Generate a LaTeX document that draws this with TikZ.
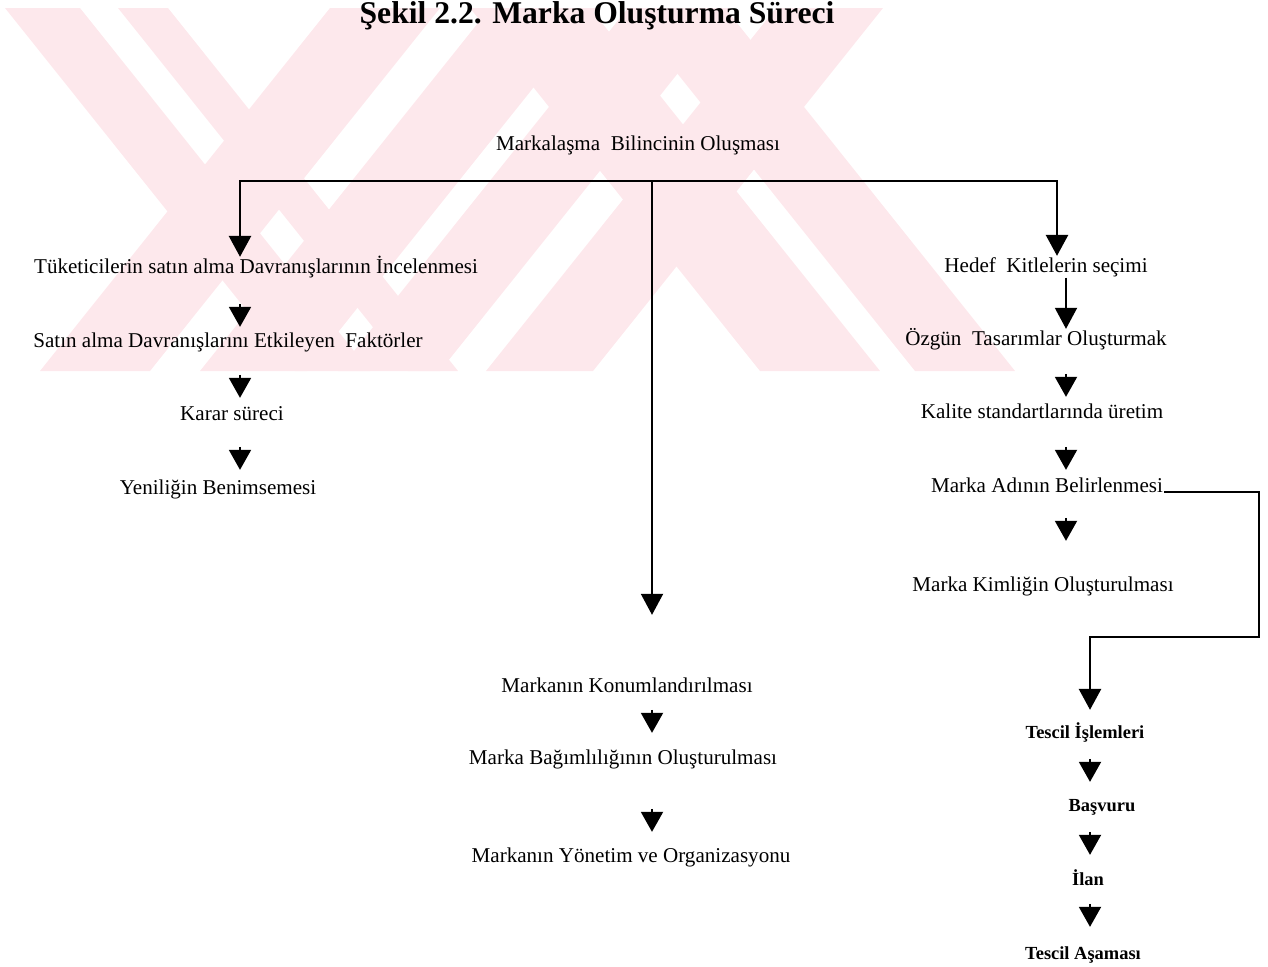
\documentclass[tikz,border=0pt]{standalone}
\usepackage{fontspec}
\setmainfont{Liberation Serif}
\usepackage{tikz}
\usetikzlibrary{arrows.meta, calc}
\definecolor{wmpink}{RGB}{253,232,236}
\tikzstyle{stage} = [anchor=base, inner sep=0.5pt, text height=8.5pt, text depth=2.5pt]
\tikzstyle{regstage} = [stage, font=\fontsize{10.5}{12}\selectfont\bfseries]
\tikzstyle{arrow} = [line width=1.6pt, -{Triangle[width=0.44cm,length=0.42cm]}]
\tikzstyle{thinarrow} = [line width=1.1pt, -{Triangle[width=0.44cm,length=0.42cm]}]
\tikzstyle{stub} = [line width=1.1pt, -{Triangle[width=0.44cm,length=0.4cm]}]

\begin{document}
\begin{tikzpicture}[x=0.02cm, y=-0.02cm, font=\fontsize{12}{14}\selectfont]
    \useasboundingbox (0,0) rectangle (1268,967);
    % watermark stripes
    \begin{scope}
        \clip (5,8) rectangle (1265,371);
        \fill[wmpink] (40,371) -- (150,371) -- (440,8) -- (330,8) -- cycle;
        \fill[wmpink] (200,371) -- (307,371) -- (597,8) -- (490,8) -- cycle;
        \fill[wmpink] (338,371) -- (440,371) -- (730,8) -- (628,8) -- cycle;
        \fill[wmpink] (486,371) -- (593,371) -- (883,8) -- (776,8) -- cycle;
        \fill[wmpink] (5,8) -- (80,8) -- (370,371) -- (295,371) -- cycle;
        \fill[wmpink] (118,8) -- (168,8) -- (458,371) -- (408,371) -- cycle;
        \fill[wmpink] (470,8) -- (590,8) -- (880,371) -- (760,371) -- cycle;
        \fill[wmpink] (625,8) -- (725,8) -- (1015,371) -- (915,371) -- cycle;
    \end{scope}
    \node (title) [anchor=base, font=\fontsize{18}{20}\selectfont\bfseries] at (597,23) {Şekil 2.2. Marka Oluşturma Süreci};

    \node (mb) [stage] at (638,150) {Markalaşma~ Bilincinin Oluşması};
    \coordinate (hub) at (652,181);
    \coordinate (colL) at (240,181);
    \coordinate (topR) at (1057,181);
    \coordinate (colR) at (1066,0);
    \coordinate (colT) at (1090,0);
    \coordinate (bendR) at (1259,637);

    % left column
    \node (tk) [stage] at (256,273) {Tüketicilerin satın alma Davranışlarının İncelenmesi};
    \node (sa) [stage] at (228,347) {Satın alma Davranışlarını Etkileyen~ Faktörler};
    \node (ks) [stage] at (232,420) {Karar süreci};
    \node (yb) [stage] at (218,494) {Yeniliğin Benimsemesi};

    % right column
    \node (hk) [stage] at (1046,272) {Hedef~ Kitlelerin seçimi};
    \node (ot) [stage] at (1036,345) {Özgün~ Tasarımlar Oluşturmak};
    \node (ku) [stage] at (1042,418) {Kalite standartlarında üretim};
    \node (ma) [stage] at (1047,492) {Marka Adının Belirlenmesi};
    \node (mk) [stage] at (1043,591) {Marka Kimliğin Oluşturulması};

    % middle column
    \node (mn) [stage] at (627,692) {Markanın Konumlandırılması};
    \node (bo) [stage] at (623,764) {Marka Bağımlılığının Oluşturulması};
    \node (yo) [stage] at (631,862) {Markanın Yönetim ve Organizasyonu};

    % registration column
    \node (ti) [regstage] at (1085,738) {Tescil İşlemleri};
    \node (bv) [regstage] at (1102,811) {Başvuru};
    \node (il) [regstage] at (1088,885) {İlan};
    \node (ta) [regstage] at (1083,959) {Tescil Aşaması};

    % branches
    \draw [arrow] (hub) -| (tk.north -| colL);
    \draw [arrow] (hub) -| (hk.north -| topR);
    \draw [thinarrow] (hub) -- ($(mn.north -| hub)+(0,-61)$);
    \draw [thinarrow] (hk.south -| colR) -- (ot.north -| colR);
    \draw [arrow] (ma.base east) -| (bendR) -| ($(ti.north -| colT)+(0,-12)$);

    % short steps
    \draw [stub] ($(sa.north -| colL)+(0,-27)$) -- ($(sa.north -| colL)+(0,-4)$);
    \draw [stub] ($(ks.north -| colL)+(0,-29)$) -- ($(ks.north -| colL)+(0,-6)$);
    \draw [stub] ($(yb.north -| colL)+(0,-31)$) -- ($(yb.north -| colL)+(0,-8)$);
    \draw [stub] ($(ku.north -| colR)+(0,-28)$) -- ($(ku.north -| colR)+(0,-5)$);
    \draw [stub] ($(ma.north -| colR)+(0,-29)$) -- ($(ma.north -| colR)+(0,-6)$);
    \draw [stub] ($(mk.north -| colR)+(0,-57)$) -- ($(mk.north -| colR)+(0,-34)$);
    \draw [stub] ($(bo.north -| hub)+(0,-38)$) -- ($(bo.north -| hub)+(0,-15)$);
    \draw [stub] ($(yo.north -| hub)+(0,-37)$) -- ($(yo.north -| hub)+(0,-14)$);
    \draw [stub] ($(bv.north -| colT)+(0,-36)$) -- ($(bv.north -| colT)+(0,-13)$);
    \draw [stub] ($(il.north -| colT)+(0,-37)$) -- ($(il.north -| colT)+(0,-14)$);
    \draw [stub] ($(ta.north -| colT)+(0,-39)$) -- ($(ta.north -| colT)+(0,-16)$);
\end{tikzpicture}
\end{document}
